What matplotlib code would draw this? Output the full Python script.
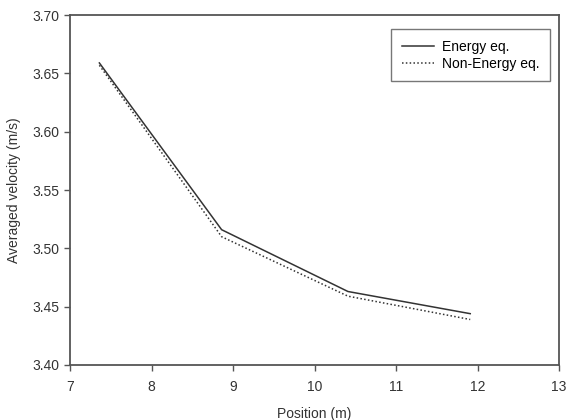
import matplotlib
matplotlib.use('Agg')
import matplotlib.pyplot as plt

plt.rcParams['font.family'] = ['Liberation Sans', 'DejaVu Sans']

# Data
position = [7.36, 8.86, 10.41, 11.91]
energy_eq = [3.659, 3.516, 3.463, 3.444]
non_energy_eq = [3.657, 3.510, 3.459, 3.439]

fig = plt.figure(figsize=(5.67, 4.2), dpi=100)
ax = fig.add_axes([0.1235, 0.131, 0.8625, 0.833])

ax.plot(position, energy_eq, color='#333333', linewidth=1.1, label='Energy eq.')
ax.plot(position, non_energy_eq, color='#333333', linewidth=1.1,
        linestyle=(0, (1, 1.5)), label='Non-Energy eq.')

ax.set_xlim(7, 13)
ax.set_ylim(3.40, 3.70)
ax.set_xticks([7, 8, 9, 10, 11, 12, 13])
ax.set_yticks([3.40, 3.45, 3.50, 3.55, 3.60, 3.65, 3.70])
ax.set_yticklabels(['3.40', '3.45', '3.50', '3.55', '3.60', '3.65', '3.70'])

for s in ax.spines.values():
    s.set_color('#555555')
    s.set_linewidth(1.3)
ax.tick_params(direction='out', length=4, width=1, colors='#555555',
               labelcolor='#333333', labelsize=10)
ax.tick_params(axis='x', pad=7)
ax.tick_params(axis='y', pad=4)

ax.set_xlabel('Position (m)', fontsize=10, color='#333333', labelpad=9)
ax.set_ylabel('Averaged velocity (m/s)', fontsize=10, color='#333333', labelpad=8)

leg = ax.legend(loc='upper right', bbox_to_anchor=(0.9816, 0.96), fontsize=10,
                frameon=True, fancybox=False, edgecolor='#555555',
                borderaxespad=0, handlelength=2.3, handletextpad=0.6,
                borderpad=0.75, labelspacing=0.25)
leg.get_frame().set_linewidth(1.0)

fig.savefig('out.png', dpi=100)
